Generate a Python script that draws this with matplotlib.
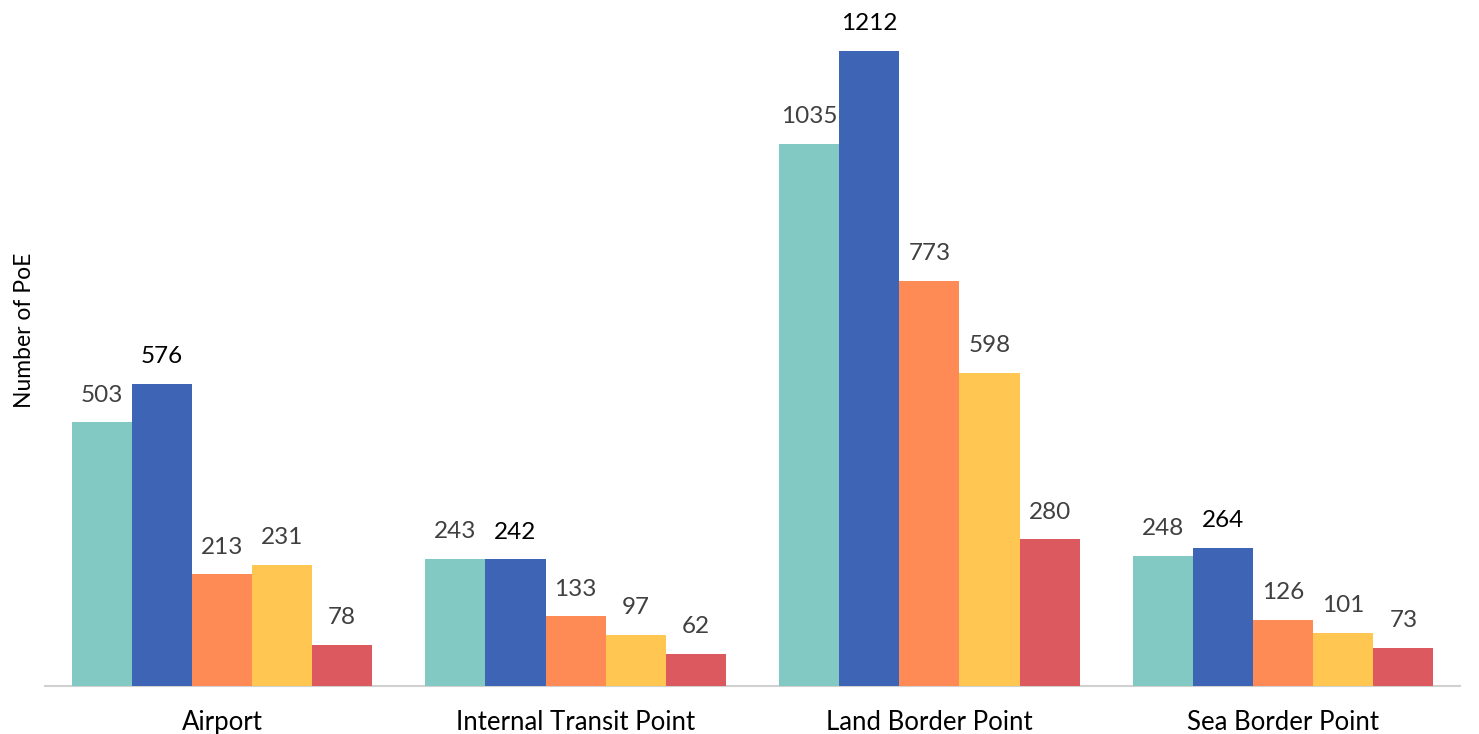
import matplotlib
matplotlib.use("Agg")
import matplotlib.pyplot as plt
import numpy as np

categories = ["Airport", "Internal Transit Point", "Land Border Point", "Sea Border Point"]
series_1 = [503, 243, 1035, 248]
series_2 = [576, 242, 1212, 264]
series_3 = [213, 133, 773, 126]
series_4 = [231, 97, 598, 101]
series_5 = [78, 62, 280, 73]

series = [series_1, series_2, series_3, series_4, series_5]
colors = ["#82C9C4", "#3D64B5", "#FE8A55", "#FFC752", "#DC5A5F"]
label_colors = ["#404040", "#000000", "#404040", "#404040", "#404040"]

plt.rcParams['font.family'] = ['Lato', 'DejaVu Sans']

W, H = 1479, 734
fig = plt.figure(figsize=(W / 100, H / 100), dpi=100)
ax = fig.add_axes([45 / W, (H - 686) / H, (1460 - 45) / W, 686 / H])

x = np.arange(len(categories))
bw = 0.17
for i, (vals, c, lc) in enumerate(zip(series, colors, label_colors)):
    pos = x + (i - 2) * bw
    bars = ax.bar(pos, vals, width=bw, color=c, edgecolor='none', zorder=2)
    ax.bar_label(bars, labels=[str(v) for v in vals], padding=12,
                 fontsize=17.5, color=lc)

ax.set_xlim(-0.5, 3.5)
ax.set_ylim(0, 1309)
ax.set_xticks(x)
ax.set_xticklabels(categories, fontsize=18.5, color="#000000")
ax.tick_params(axis='x', length=0, pad=17)
ax.set_yticks([])
for s in ['top', 'right', 'left']:
    ax.spines[s].set_visible(False)
ax.spines['bottom'].set_color('#D0D0D0')
ax.spines['bottom'].set_linewidth(1.5)
ax.spines['bottom'].set_zorder(1)

fig.text(25 / W, 1 - 330 / H, "Number of PoE", rotation=90, fontsize=16.5,
         ha='center', va='center', color="#000000")

fig.savefig("out.png", dpi=100)
